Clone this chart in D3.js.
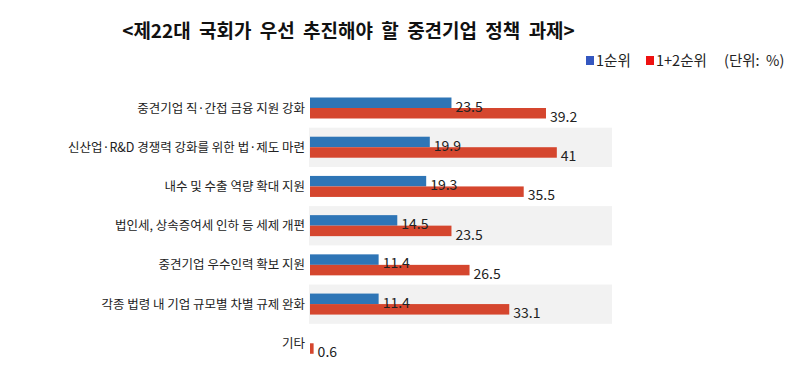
<!DOCTYPE html>
<html><head><meta charset="utf-8">
<script src="https://cdn.jsdelivr.net/npm/d3@7"></script>
<style>
html,body{margin:0;padding:0;background:#fff;}
text{font-family:"Noto Sans CJK KR","Noto Sans",sans-serif;}
</style></head>
<body><svg id="c" width="796" height="387"></svg>
<script>
const title = "<제22대 국회가 우선 추진해야 할 중견기업 정책 과제>";
const categories = [
  "중견기업 직·간접 금융 지원 강화",
  "신산업·R&D 경쟁력 강화를 위한 법·제도 마련",
  "내수 및 수출 역량 확대 지원",
  "법인세, 상속증여세 인하 등 세제 개편",
  "중견기업 우수인력 확보 지원",
  "각종 법령 내 기업 규모별 차별 규제 완화",
  "기타"
];
const seriesNames = ["1순위", "1+2순위"];
const rank1 = [23.5, 19.9, 19.3, 14.5, 11.4, 11.4, null];
const rank12 = [39.2, 41, 35.5, 23.5, 26.5, 33.1, 0.6];
const barColors = ["#2e75b6", "#d5462e"];
const legendColors = ["#3457c0", "#ee1111"];
const unitText = "(단위:  %)";

const svg = d3.select("#c");
const x = d3.scaleLinear().domain([0, 50]).range([310, 611]);
const y = d3.scaleBand().domain(categories).range([88.5, 363]).padding(0);
const ys = d3.scaleBand().domain(seriesNames).range([9, 30]).padding(0);

// title
svg.append("text").attr("x", 348.5).attr("y", 38).attr("text-anchor", "middle")
  .attr("font-size", 19).attr("font-weight", "bold").attr("fill", "#111")
  .attr("word-spacing", 4).text(title);

// legend
const lg = svg.append("g");
const legItems = [
  {name: seriesNames[0], color: legendColors[0], x: 586},
  {name: seriesNames[1], color: legendColors[1], x: 646}
];
legItems.forEach(d => {
  lg.append("rect").attr("x", d.x).attr("y", 56).attr("width", 8).attr("height", 9).attr("fill", d.color);
  lg.append("text").attr("x", d.x + 10).attr("y", 66).attr("font-size", 14.5).attr("fill", "#222").text(d.name);
});
lg.append("text").attr("x", 724).attr("y", 66).attr("font-size", 14.5).attr("fill", "#222")
  .attr("xml:space", "preserve").style("white-space", "pre").text(unitText);

// alternating bands
svg.append("g").selectAll("rect").data(categories.filter((d, i) => i % 2 === 1)).join("rect")
  .attr("x", 309).attr("width", 303).attr("y", d => y(d)).attr("height", y.bandwidth())
  .attr("fill", "#f2f2f2");

// category labels
svg.append("g").selectAll("text").data(categories).join("text")
  .attr("x", 305).attr("y", d => y(d) + 24).attr("text-anchor", "end")
  .attr("font-size", 12.5).attr("fill", "#222").text(d => d);

// bars
const series = [rank1, rank12];
const allData = [];
series.forEach((vals, si) => {
  const data = categories.map((c, i) => ({c, v: vals[i], s: seriesNames[si]})).filter(d => d.v != null);
  allData.push(...data);
  svg.append("g").selectAll("rect").data(data).join("rect")
    .attr("x", x(0)).attr("y", d => y(d.c) + ys(d.s))
    .attr("width", d => x(d.v) - x(0)).attr("height", ys.bandwidth())
    .attr("fill", barColors[si]);
});
// value labels on top
svg.append("g").selectAll("text").data(allData).join("text")
  .attr("x", d => x(d.v) + 4)
  .attr("y", d => y(d.c) + ys(d.s) + ys.bandwidth() + 3.5)
  .attr("font-size", 14).attr("fill", "#222").text(d => d.v);
</script></body></html>
